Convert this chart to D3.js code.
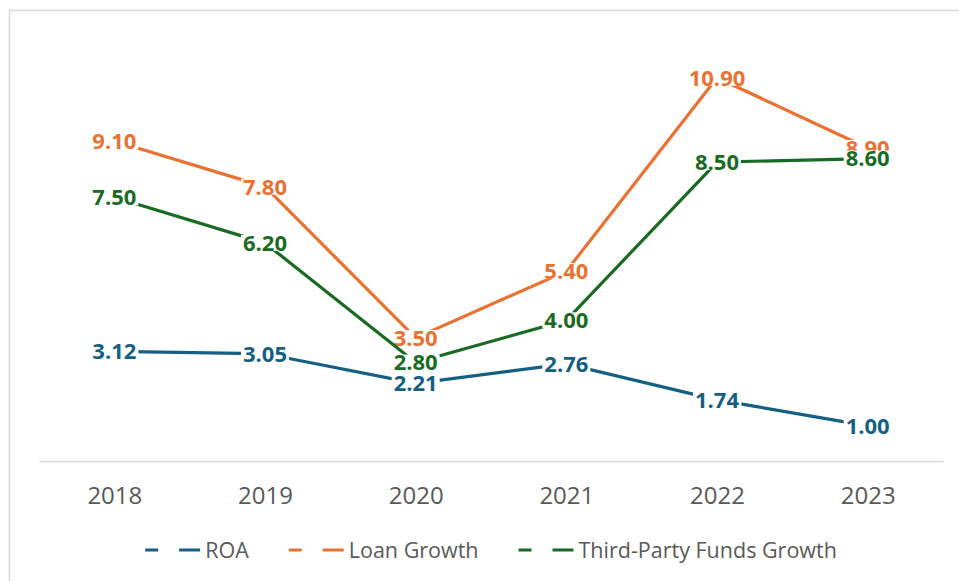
<!DOCTYPE html>
<html>
<head>
<meta charset="utf-8">
<script src="https://cdn.jsdelivr.net/npm/d3@7"></script>
<style>
  body { margin: 0; background: #fff; }
  svg { display: block; font-family: "Open Sans", "Noto Sans", sans-serif; }
</style>
</head>
<body>
<div id="chart"></div>
<script>
const years = ["2018", "2019", "2020", "2021", "2022", "2023"];
const roa = [3.12, 3.05, 2.21, 2.76, 1.74, 1.00];
const loanGrowth = [9.10, 7.80, 3.50, 5.40, 10.90, 8.90];
const fundsGrowth = [7.50, 6.20, 2.80, 4.00, 8.50, 8.60];
const seriesNames = ["ROA", "Loan Growth", "Third-Party Funds Growth"];
const seriesColors = ["#156082", "#E97132", "#196B24"];

const width = 959, height = 581;
const plot = { left: 39, right: 943, top: 39, bottom: 461 };

const svg = d3.select("#chart").append("svg").attr("width", width).attr("height", height);

// chart frame (cut off at the right and bottom in the source)
svg.append("rect")
  .attr("x", 9.5).attr("y", 10.5).attr("width", 1000).attr("height", 1000)
  .attr("fill", "none").attr("stroke", "#d9d9d9").attr("stroke-width", 1.5);

const x = d3.scalePoint().domain(years).range([plot.left, plot.right]).padding(0.5);
const y = d3.scaleLinear().domain([0, 12]).range([plot.bottom, plot.top]);

const xAxis = d3.axisBottom(x).tickSize(0).tickSizeOuter(0).tickPadding(26);
const gx = svg.append("g").attr("transform", `translate(0,${plot.bottom})`).call(xAxis);
gx.select(".domain").attr("stroke", "#d9d9d9").attr("stroke-width", 1.5);
gx.selectAll("text")
  .attr("fill", "#595959")
  .style("font-size", "24px")
  .style("font-family", "'Open Sans', sans-serif");

const allSeries = [roa, loanGrowth, fundsGrowth];
const line = d3.line().x((d, i) => x(years[i])).y(d => y(d));

allSeries.forEach((values, s) => {
  const g = svg.append("g");
  g.append("path")
    .datum(values)
    .attr("d", line)
    .attr("fill", "none")
    .attr("stroke", seriesColors[s])
    .attr("stroke-width", 3.2);

  const labels = g.selectAll("g.lbl").data(values).enter().append("g")
    .attr("class", "lbl")
    .attr("transform", (d, i) => `translate(${x(years[i])},${y(d)})`);
  const rects = labels.append("rect").attr("fill", "#fff");
  const texts = labels.append("text")
    .attr("text-anchor", "middle")
    .attr("dy", "0.36em")
    .attr("fill", seriesColors[s])
    .style("font-size", "22px")
    .style("font-weight", "bold")
    .text(d => d.toFixed(2));
  texts.each(function (d, i) {
    const b = this.getBBox();
    d3.select(rects.nodes()[i])
      .attr("x", b.x - 2).attr("y", -8)
      .attr("width", b.width + 4).attr("height", 16);
  });
});

// legend
const legend = svg.append("g").attr("transform", "translate(0,550)");
const sampleLen = 55, textGap = 5, itemGap = 40;
const items = legend.selectAll("g").data(seriesNames).enter().append("g");
items.append("line")
  .attr("x1", 0).attr("x2", sampleLen)
  .attr("stroke", (d, i) => seriesColors[i])
  .attr("stroke-width", 3.2)
  .attr("stroke-dasharray", "21,21")
  .attr("stroke-dashoffset", 8);
items.append("text")
  .attr("x", sampleLen + textGap)
  .attr("dy", "0.35em")
  .attr("fill", "#595959")
  .style("font-size", "21.5px")
  .text(d => d);
const widths = [];
items.each(function () {
  const w = sampleLen + textGap + d3.select(this).select("text").node().getComputedTextLength();
  widths.push(w);
});
const total = d3.sum(widths) + itemGap * (widths.length - 1);
let offset = (plot.left + plot.right) / 2 - total / 2;
items.attr("transform", (d, i) => {
  const t = `translate(${offset},0)`;
  offset += widths[i] + itemGap;
  return t;
});
</script>
</body>
</html>
